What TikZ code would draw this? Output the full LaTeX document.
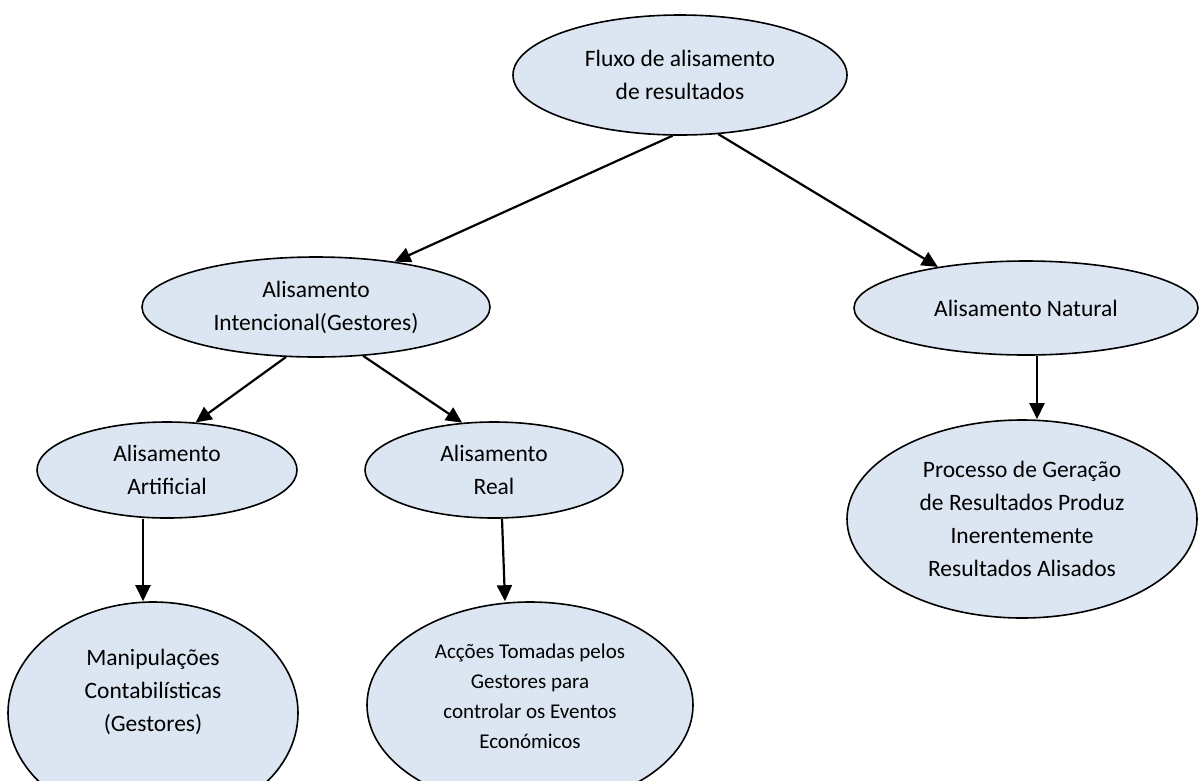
\documentclass[tikz,border=0pt]{standalone}
\usepackage{fontspec}
\setmainfont{Carlito}
\usetikzlibrary{arrows.meta,shapes.geometric}
\definecolor{bubfill}{RGB}{220,230,242}
\begin{document}
\begin{tikzpicture}[x=1pt,y=-1pt,
  bub/.style={ellipse, draw=black, line width=1.6pt, fill=bubfill, inner sep=0pt, align=center, font=\fontsize{23.5}{33}\selectfont},
  lbl/.style={align=center, inner sep=0pt, font=\fontsize{23.5}{33}\selectfont},
  arr/.style={line width=2.2pt, -{Triangle[length=16pt,width=15pt]}}]
\useasboundingbox (0,0) rectangle (1201,780);
\node[bub, minimum width=334pt, minimum height=120pt] (top) at (680,75) {Fluxo de alisamento\\de resultados};
\node[bub, minimum width=348pt, minimum height=100pt] (int) at (316,307) {Alisamento\\Intencional(Gestores)};
\node[bub, minimum width=344pt, minimum height=94pt] (nat) at (1026,308) {Alisamento Natural};
\node[bub, minimum width=260pt, minimum height=96pt] (art) at (167,470) {Alisamento\\Artificial};
\node[bub, minimum width=258pt, minimum height=96pt] (real) at (494,470) {Alisamento\\Real};
\node[bub, minimum width=290pt, minimum height=222pt,
      label={[lbl, name=manitxt, yshift=21pt]center:{Manipulações\\Contabilísticas\\(Gestores)}}] (mani) at (153,713) {};
\node[bub, minimum width=326pt, minimum height=206pt,
      label={[lbl, name=acctxt, yshift=9pt, font=\fontsize{21}{30}\selectfont]center:{Acções Tomadas pelos\\Gestores para\\controlar os Eventos\\Económicos}}] (acc) at (530,705) {};
\node[bub, minimum width=350pt, minimum height=198pt] (proc) at (1022,519) {Processo de Geração\\de Resultados Produz\\Inerentemente\\Resultados Alisados};
\draw[arr] (top.263.3) -- (int.30.3);
\draw[arr] (top.303.2) -- (nat.155.8);
\draw[arr] (int.239.9) -- (art.59);
\draw[arr] (int.314.4) -- (real.124.2);
\draw[arr] ([xshift=-24pt]art.south) -- ([xshift=-10pt]mani.north);
\draw[arr] ([xshift=8pt]real.south) -- ([xshift=-25pt]acc.north);
\draw[arr] ([xshift=11pt]nat.south) -- ([xshift=15pt]proc.north);
\end{tikzpicture}
\end{document}
